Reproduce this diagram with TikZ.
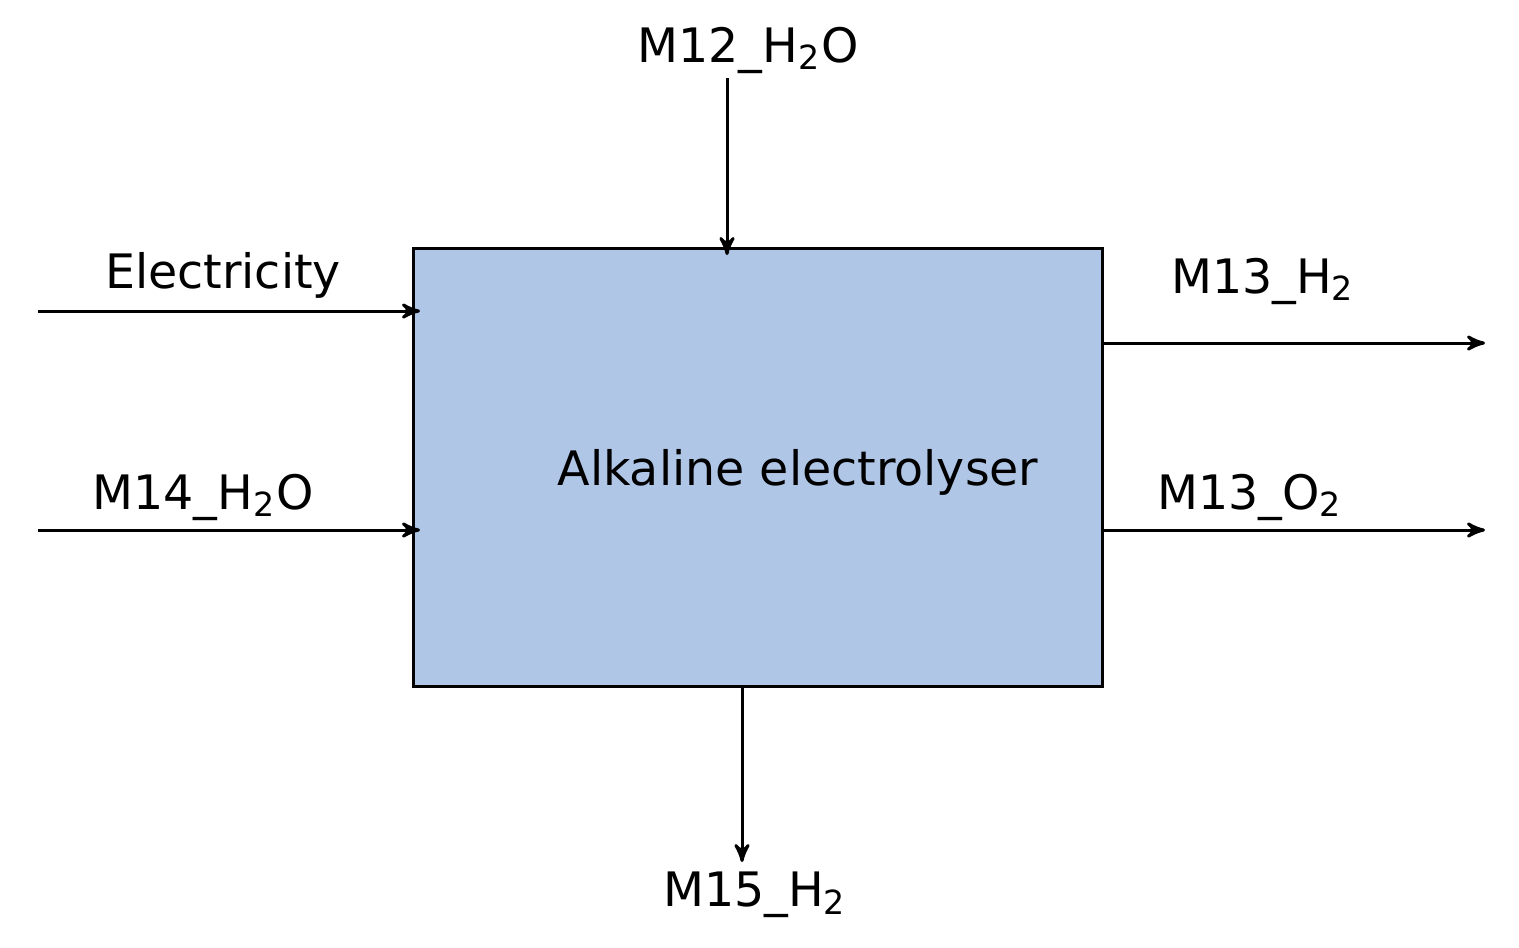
\documentclass[tikz,border=0pt]{standalone}
\usepackage{fontspec}
\setmainfont{DejaVu Sans}
\usetikzlibrary{positioning}
\usetikzlibrary{arrows}
\definecolor{boxblue}{HTML}{B0C6E7}
\begin{document}
\begin{tikzpicture}[x=0.01cm,y=-0.01cm,line width=0.85pt,>=stealth',
  flow/.style={->,shorten >=0pt},
  lbl/.style={font=\fontsize{13.5}{16}\selectfont,inner sep=0pt}]
\useasboundingbox (0,0) rectangle (1519,947);

\node[draw,fill=boxblue,minimum width=6.88cm,minimum height=4.37cm,inner sep=0pt] (elyser) at (758,467.5) {};
\node[lbl] (elyserTxt) at (798,472) {Alkaline electrolyser};

\coordinate (inTop) at (727,78);
\coordinate (inElec) at (38,311);
\coordinate (inWater) at (38,530);
\coordinate (outHtwo) at (1485,343);
\coordinate (outOtwo) at (1485,530);
\coordinate (outBot) at (742,862);

\node[lbl] at (748,50) {M12\_H\textsubscript{2}O};
\node[lbl] at (223,275) {Electricity};
\node[lbl] at (203,497) {M14\_H\textsubscript{2}O};
\node[lbl] at (1263,281) {M13\_H\textsubscript{2}};
\node[lbl] at (1250,497) {M13\_O\textsubscript{2}};
\node[lbl] at (755,895) {M15\_H\textsubscript{2}};

\draw[flow] (inTop) -- (727,255);
\draw[flow] (inElec) -- (420,311);
\draw[flow] (inWater) -- (420,530);
\draw[flow] (1102,343) -- (outHtwo);
\draw[flow] (1102,530) -- (outOtwo);
\draw[flow] (742,686) -- (outBot);
\end{tikzpicture}
\end{document}
